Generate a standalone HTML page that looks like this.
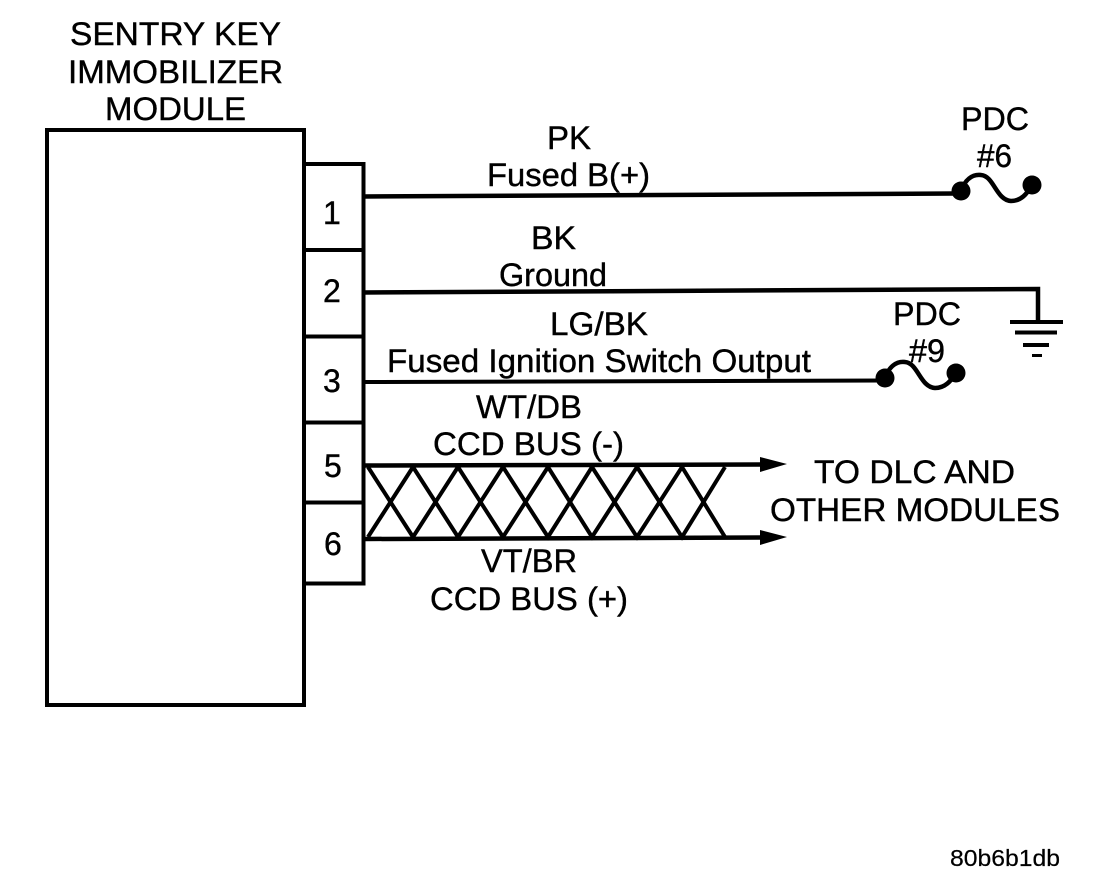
<!DOCTYPE html>
<html><head><meta charset="utf-8"><style>
html,body{margin:0;padding:0;background:#fff}
svg{display:block}
text{font-family:"Liberation Sans",sans-serif;font-size:32px;fill:#000;stroke:#000;stroke-width:.4}
</style></head><body>
<svg width="1120" height="880" viewBox="0 0 1120 880" xmlns="http://www.w3.org/2000/svg">
<rect width="1120" height="880" fill="#fff"/>
<g fill="none" stroke="#000" stroke-width="4">
<rect x="47" y="130" width="257" height="575"/>
<rect x="304" y="164" width="59.5" height="419.5"/>
<path d="M304 250H363M304 336.5H363M304 422.5H363M304 502.5H363"/>
<path d="M363 196.5L956 193.5" stroke-width="4.5"/>
<path d="M363 292.5L1038 289V322" stroke-width="4.5"/>
<path d="M363 382L885 380.5" stroke-width="4"/>
<path d="M365 465.5L762 464.5M365 539L762 537.5" stroke-width="4.5"/>
<path d="M1010 322H1063M1015 332.5H1057M1023 345H1049" stroke-width="4"/>
<path d="M1032 355.5H1042" stroke-width="3"/>
<path d="M961 191C965 180 972 174 981 175C994 176 996 200 1011 201C1021 201 1027 194 1032 185" stroke-width="4.5"/>
<path d="M885 378C889 367 896 361 905 362C918 363 920 387 935 388C945 388 951 381 956 373" stroke-width="4.5"/>
<path d="M368 467L413 537L458 467L503 537L548 467L592 537L637 467L682 537L725 467"/>
<path d="M368 537L413 467L458 537L503 467L548 537L592 467L637 537L682 467L725 537"/>
</g>
<circle cx="961" cy="191" r="9.5"/><circle cx="1032" cy="185" r="9.5"/>
<circle cx="885" cy="378" r="9.5"/><circle cx="956" cy="373" r="9.5"/>
<path d="M760 457L787 464L760 472ZM760 530L787 537L760 545Z"/>
<text x="70" y="45" textLength="211" lengthAdjust="spacingAndGlyphs">SENTRY KEY</text>
<text x="68" y="83" textLength="215" lengthAdjust="spacingAndGlyphs">IMMOBILIZER</text>
<text x="105" y="120" textLength="141" lengthAdjust="spacingAndGlyphs">MODULE</text>
<text x="547" y="149" textLength="44" lengthAdjust="spacingAndGlyphs">PK</text>
<text x="487" y="186" textLength="163" lengthAdjust="spacingAndGlyphs">Fused B(+)</text>
<text x="531" y="249" textLength="45" lengthAdjust="spacingAndGlyphs">BK</text>
<text x="499" y="286" textLength="108" lengthAdjust="spacingAndGlyphs">Ground</text>
<text x="550" y="335" textLength="98" lengthAdjust="spacingAndGlyphs">LG/BK</text>
<text x="387" y="372" textLength="424" lengthAdjust="spacingAndGlyphs">Fused Ignition Switch Output</text>
<text x="476" y="418" textLength="106" lengthAdjust="spacingAndGlyphs">WT/DB</text>
<text x="433" y="455" textLength="191" lengthAdjust="spacingAndGlyphs">CCD BUS (-)</text>
<text x="814" y="483" textLength="201" lengthAdjust="spacingAndGlyphs">TO DLC AND</text>
<text x="770" y="521" textLength="290" lengthAdjust="spacingAndGlyphs">OTHER MODULES</text>
<text x="481" y="572" textLength="96" lengthAdjust="spacingAndGlyphs">VT/BR</text>
<text x="430" y="610" textLength="198" lengthAdjust="spacingAndGlyphs">CCD BUS (+)</text>
<text x="961" y="130" textLength="68" lengthAdjust="spacingAndGlyphs">PDC</text>
<text x="977" y="167" textLength="35" lengthAdjust="spacingAndGlyphs">#6</text>
<text x="893" y="325" textLength="68" lengthAdjust="spacingAndGlyphs">PDC</text>
<text x="909" y="362" textLength="36" lengthAdjust="spacingAndGlyphs">#9</text>
<text x="323" y="224">1</text>
<text x="323" y="302">2</text>
<text x="323" y="392">3</text>
<text x="324" y="477">5</text>
<text x="324" y="555">6</text>
<text x="950" y="866" textLength="110" lengthAdjust="spacingAndGlyphs" style="font-size:23px;stroke-width:.2">80b6b1db</text>
</svg>
</body></html>
